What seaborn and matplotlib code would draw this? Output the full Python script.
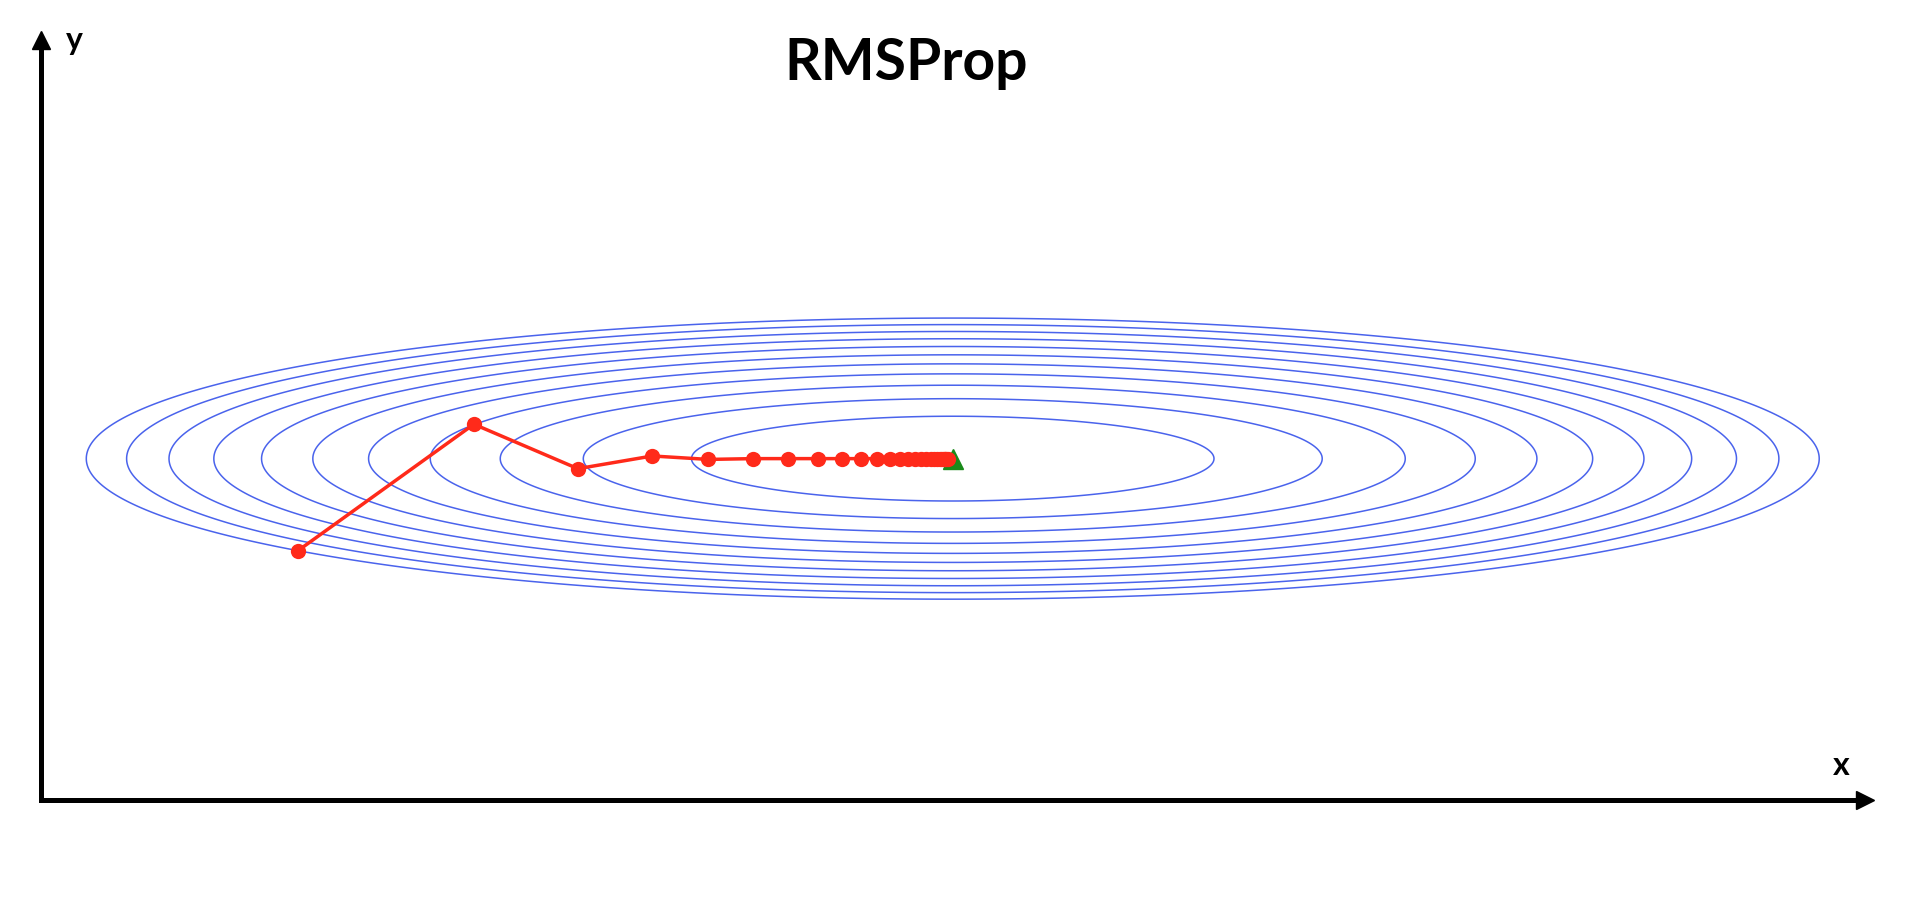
import numpy as np
import pandas as pd
import matplotlib
matplotlib.use("Agg")
import matplotlib.pyplot as plt
import seaborn as sns

# ---- data ----
title = "RMSProp"
x_label = "x"
y_label = "y"

# loss surface f(x, y) = coef_x * x^2 + coef_y * y^2, drawn at these levels
coef_x = 1.0
coef_y = 39.0
levels = [1, 2, 3, 4, 5, 6, 7, 8, 9, 10, 11]

# RMSProp trajectory
path_x = [-2.508, -1.833, -1.435, -1.150, -0.935, -0.764, -0.629, -0.517,
          -0.425, -0.351, -0.291, -0.241, -0.202, -0.170, -0.143, -0.120,
          -0.101, -0.085, -0.071, -0.060, -0.050, -0.042, -0.035, -0.029,
          -0.024, -0.020]
path_y = [-0.349, 0.130, -0.038, 0.010, -0.003, 0.000, 0.000, 0.000,
          0.000, 0.000, 0.000, 0.000, 0.000, 0.000, 0.000, 0.000,
          0.000, 0.000, 0.000, 0.000, 0.000, 0.000, 0.000, 0.000,
          0.000, 0.000]

minimum_x = [0.0]
minimum_y = [0.0]

x_limits = [-3.49, 3.49]
y_limits = [-1.29, 1.58]

# ---- drawing ----
sns.set_theme(style="white")
plt.rcParams["font.family"] = ["Lato", "DejaVu Sans"]

W, H = 1916, 905
fig = plt.figure(figsize=(W / 100, H / 100), dpi=100)
ax = fig.add_axes([41 / W, 105 / H, 1823.5 / W, 759.5 / H])

gx = np.linspace(x_limits[0], x_limits[1], 1200)
gy = np.linspace(y_limits[0], y_limits[1], 800)
X, Y = np.meshgrid(gx, gy)
Z = coef_x * X ** 2 + coef_y * Y ** 2
ax.contour(X, Y, Z, levels=levels, colors="#4a63ec", linewidths=1.1)

ax.plot(minimum_x, minimum_y, marker="^", color="#1a8a1a", markersize=14,
        linestyle="none", zorder=3)

df = pd.DataFrame({"x": path_x, "y": path_y})
sns.lineplot(data=df, x="x", y="y", sort=False, estimator=None,
             color="#ff2a1a", linewidth=2.5, marker="o", markersize=11,
             markeredgewidth=0, ax=ax, zorder=4)

ax.set_xlim(x_limits)
ax.set_ylim(y_limits)
ax.set_xticks([])
ax.set_yticks([])
ax.set_xlabel("")
ax.set_ylabel("")
for s in ["top", "right"]:
    ax.spines[s].set_visible(False)
for s in ["left", "bottom"]:
    ax.spines[s].set_linewidth(3.6)
    ax.spines[s].set_color("black")

ax.plot(1, 0, ">", color="black", markersize=13, transform=ax.transAxes,
        clip_on=False)
ax.plot(0, 1, "^", color="black", markersize=13, transform=ax.transAxes,
        clip_on=False)

fig.text(906 / W, 1 - 80 / H, title, ha="center", va="baseline",
         fontsize=41, fontweight="bold", color="black")
fig.text(74 / W, 1 - 50 / H, y_label, ha="center", va="baseline",
         fontsize=23, fontweight="bold", color="black")
fig.text(1841 / W, 1 - 775 / H, x_label, ha="center", va="baseline",
         fontsize=23, fontweight="bold", color="black")

fig.savefig("out.png", dpi=100)
